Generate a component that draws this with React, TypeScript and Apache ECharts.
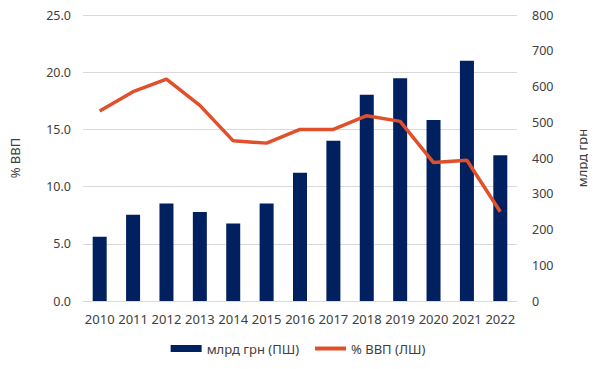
import React, { useEffect, useRef } from "react";
import * as echarts from "echarts";

const years = ["2010", "2011", "2012", "2013", "2014", "2015", "2016", "2017", "2018", "2019", "2020", "2021", "2022"];
const bnUah = [180, 241, 273, 249, 217, 273, 359, 448, 577, 623, 506, 672, 408];
const pctGdp = [16.6, 18.3, 19.4, 17.1, 14.0, 13.8, 15.0, 15.0, 16.2, 15.7, 12.1, 12.3, 7.8];

const barName = "млрд грн (ПШ)";
const lineName = "% ВВП (ЛШ)";
const font = "Noto Sans";
const textColor = "#404040";

export default function App() {
  const ref = useRef<HTMLDivElement>(null);
  useEffect(() => {
    if (!ref.current) return;
    const chart = echarts.init(ref.current, undefined, { renderer: "svg" });
    chart.setOption({
      animation: false,
      backgroundColor: "#ffffff",
      textStyle: { fontFamily: font },
      grid: { left: 80, right: 76, top: 15, bottom: 68 },
      legend: {
        bottom: 9,
        left: "center",
        itemWidth: 31,
        itemHeight: 7,
        itemGap: 16,
        textStyle: { fontFamily: font, fontSize: 13, color: textColor },
        data: [
          { name: barName, icon: "rect" },
          { name: lineName, icon: "path://M0,0 L31,0 L31,4 L0,4 Z", itemStyle: { color: "#E0502A" } },
        ],
      },
      xAxis: {
        type: "category",
        data: years,
        axisTick: { show: false },
        axisLine: { lineStyle: { color: "#d9d9d9" } },
        axisLabel: { color: textColor, fontSize: 13, margin: 11, fontFamily: font, interval: 0 },
      },
      yAxis: [
        {
          type: "value",
          min: 0,
          max: 25,
          interval: 5,
          name: "% ВВП",
          nameLocation: "middle",
          nameRotate: 90,
          nameGap: 62,
          nameTextStyle: { color: textColor, fontSize: 13, fontFamily: font },
          axisLabel: { color: textColor, fontSize: 12.5, margin: 12, formatter: (v: number) => v.toFixed(1) },
          axisLine: { show: false },
          axisTick: { show: false },
          splitLine: { lineStyle: { color: "#d9d9d9" } },
        },
        {
          type: "value",
          min: 0,
          max: 800,
          interval: 100,
          name: "млрд грн",
          nameLocation: "middle",
          nameRotate: 90,
          nameGap: 58,
          nameTextStyle: { color: textColor, fontSize: 13, fontFamily: font },
          axisLabel: { color: textColor, fontSize: 12.5, margin: 15 },
          axisLine: { show: false },
          axisTick: { show: false },
          splitLine: { show: false },
        },
      ],
      series: [
        {
          name: barName,
          type: "bar",
          yAxisIndex: 1,
          data: bnUah,
          barWidth: 14,
          itemStyle: { color: "#002060" },
        },
        {
          name: lineName,
          type: "line",
          yAxisIndex: 0,
          data: pctGdp,
          symbol: "none",
          lineStyle: { color: "#E0502A", width: 3.5 },
          itemStyle: { color: "#E0502A" },
        },
      ],
    });
    return () => chart.dispose();
  }, []);
  return <div ref={ref} style={{ width: 596, height: 369, margin: -8 }} />;
}
